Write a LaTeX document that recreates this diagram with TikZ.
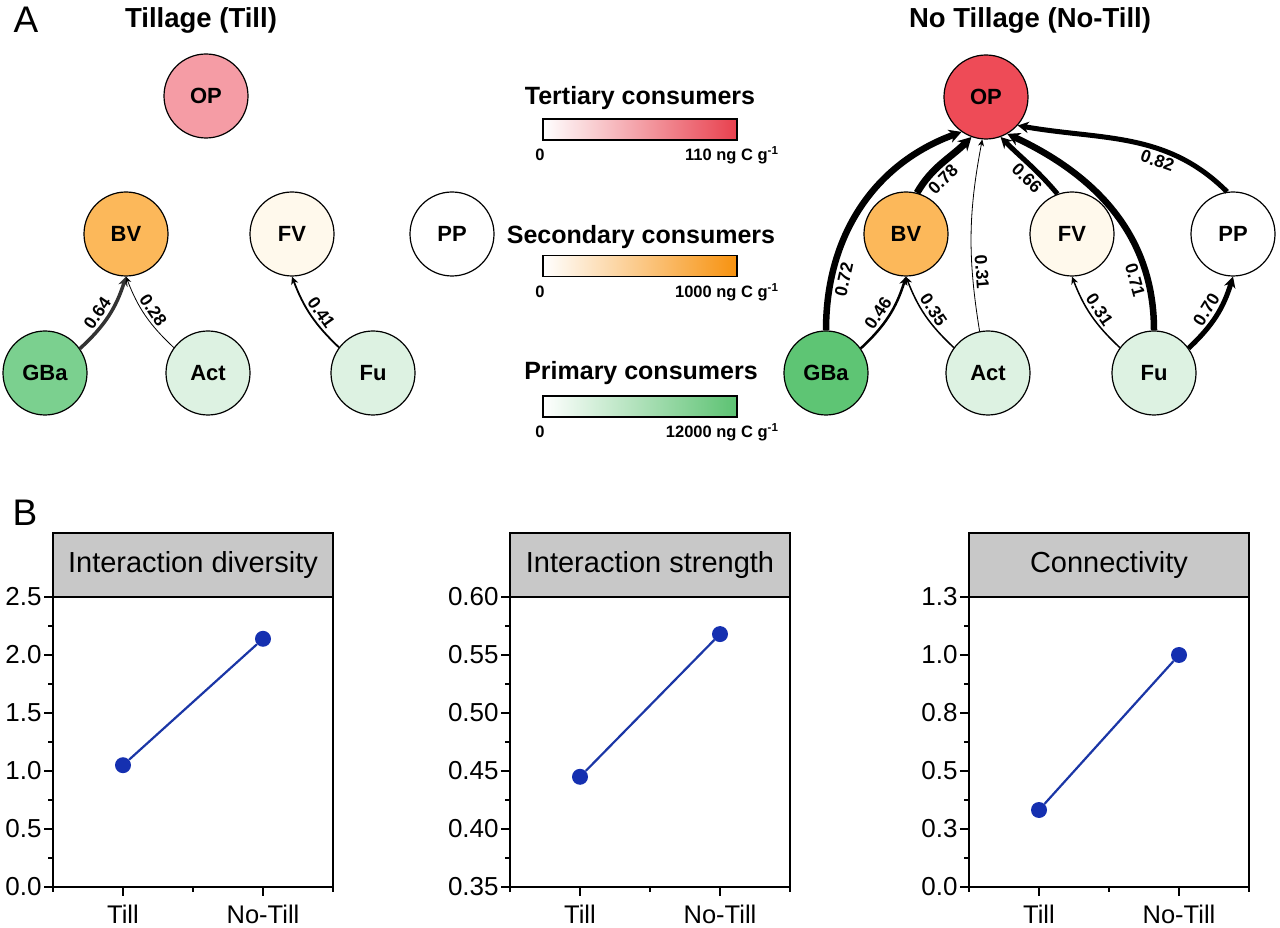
\documentclass[tikz,border=0pt]{standalone}
\usepackage{fontspec}
\setmainfont{Liberation Sans}
\usetikzlibrary{arrows.meta,positioning}

\definecolor{opPale}{HTML}{F59CA5}
\definecolor{opRed}{HTML}{EE4B57}
\definecolor{bvOrange}{HTML}{FCB85A}
\definecolor{fvCream}{HTML}{FFF9EC}
\definecolor{gbaTill}{HTML}{7BD08F}
\definecolor{gbaNoTill}{HTML}{5EC574}
\definecolor{primLight}{HTML}{DDF2E2}
\definecolor{barRed}{HTML}{E8404E}
\definecolor{barOrange}{HTML}{F7920F}
\definecolor{barGreen}{HTML}{5CC272}
\definecolor{hdrGray}{HTML}{C8C8C8}
\definecolor{dotBlue}{HTML}{1530B0}
\definecolor{lineBlue}{HTML}{1B36A6}
\definecolor{edgeGray}{HTML}{333333}

\begin{document}
\begin{tikzpicture}[
        x=1pt, y=1pt,
        sp/.style={circle, draw=black, line width=1.2pt, minimum size=84pt,
            inner sep=0pt, font=\fontsize{22}{24}\selectfont\bfseries},
        link/.style={line width=#1, -{Stealth[length=6pt 1, width=5pt 1.3]}},
        wt/.style={font=\fontsize{17.5}{19}\selectfont\bfseries, sloped, inner sep=3pt},
        ttl/.style={font=\fontsize{27.5}{30}\selectfont\bfseries},
        panel/.style={font=\fontsize{37}{40}\selectfont},
        legtitle/.style={font=\fontsize{25}{28}\selectfont\bfseries},
        leglab/.style={font=\fontsize{16.5}{18}\selectfont\bfseries},
        colbar/.style={draw=black, line width=1.1pt, minimum width=194pt,
            minimum height=21pt, inner sep=0pt, left color=white},
        hdr/.style={draw=black, line width=1.5pt, fill=hdrGray, minimum width=280pt,
            minimum height=64pt, font=\fontsize{29}{32}\selectfont},
        frame/.style={line width=1.5pt},
        axisln/.style={line width=1.8pt},
        ylab/.style={anchor=east, font=\fontsize{26}{28}\selectfont, inner sep=1.5pt},
        xlab/.style={anchor=base, font=\fontsize{25.5}{28}\selectfont},
        pt/.style={circle, fill=dotBlue, minimum size=16pt, inner sep=0pt},
        series/.style={draw=lineBlue, line width=2.2pt},
    ]
    \useasboundingbox (0,0) rectangle (1280,927);

    % panel letters and titles
    \node[panel] (letA) at (26,907) {A};
    \node[panel] (letB) at (25,414) {B};
    \node[ttl] (titleTill) at (201,907) {Tillage (Till)};
    \node[ttl] (titleNoTill) at (1030,907) {No Tillage (No-Till)};

    % Till food web
    \node[sp, fill=opPale] (OPa) at (206,831) {OP};
    \node[sp, fill=bvOrange] (BVa) at (126,693) {BV};
    \node[sp, fill=fvCream] (FVa) at (292,693) {FV};
    \node[sp, fill=white] (PPa) at (452,693) {PP};
    \node[sp, fill=gbaTill] (GBaa) at (45,554) {GBa};
    \node[sp, fill=primLight] (Acta) at (208,554) {Act};
    \node[sp, fill=primLight] (Fua) at (373,554) {Fu};

    \draw[link=3.5pt, draw=edgeGray] (GBaa) to[bend right=15]
        node[wt, above, pos=0.45] {0.64} (BVa.south);
    \draw[link=0.8pt] (Acta) to[bend left=13]
        node[wt, above, pos=0.5] {0.28} (BVa.south);
    \draw[link=1.8pt] (Fua) to[bend left=13]
        node[wt, above, pos=0.45] {0.41} (FVa.south);

    % legend
    \node[legtitle] (tertT) at (640,829) {Tertiary consumers};
    \node[colbar, right color=barRed] (tertB) at (640,797.5) {};
    \node[leglab] (tert0) at (540,772) {0};
    \node[leglab, anchor=east] (tertMax) at (782,772) {110 ng C g\textsuperscript{-1}};

    \node[legtitle] (secT) at (641,690) {Secondary consumers};
    \node[colbar, right color=barOrange] (secB) at (640,661) {};
    \node[leglab] (sec0) at (540,635) {0};
    \node[leglab, anchor=east] (secMax) at (782,635) {1000 ng C g\textsuperscript{-1}};

    \node[legtitle] (primT) at (641,554) {Primary consumers};
    \node[colbar, right color=barGreen] (primB) at (640,520.5) {};
    \node[leglab] (prim0) at (540,495) {0};
    \node[leglab, anchor=east] (primMax) at (782,495) {12000 ng C g\textsuperscript{-1}};

    % No-Till food web
    \node[sp, fill=opRed] (OPb) at (986,830) {OP};
    \node[sp, fill=bvOrange] (BVb) at (906,693) {BV};
    \node[sp, fill=fvCream] (FVb) at (1072,693) {FV};
    \node[sp, fill=white] (PPb) at (1233,693) {PP};
    \node[sp, fill=gbaNoTill] (GBab) at (826,554) {GBa};
    \node[sp, fill=primLight] (Actb) at (988,554) {Act};
    \node[sp, fill=primLight] (Fub) at (1154,554) {Fu};

    \draw[link=6.5pt] (GBab.90) to[out=90, in=200]
        node[wt, below, pos=0.2] {0.72} (OPb.235);
    \draw[link=7pt] (BVb.75) to[out=60, in=225]
        node[wt, below, pos=0.35] {0.78} (OPb.250);
    \draw[link=0.8pt] (Actb) to[bend left=10]
        node[wt, above, pos=0.29] {0.31} (OPb.265);
    \draw[link=2.5pt] (GBab) to[bend right=15]
        node[wt, above, pos=0.45] {0.46} (BVb.south);
    \draw[link=1.5pt] (Actb) to[bend left=13]
        node[wt, above, pos=0.5] {0.35} (BVb.south);
    \draw[link=5pt] (FVb.110) to[out=130, in=-45]
        node[wt, below, pos=0.4] {0.66} (OPb.290);
    \draw[link=6.5pt] (Fub.90) to[out=90, in=-25]
        node[wt, below, pos=0.2] {0.71} (OPb.300);
    \draw[link=1.5pt] (Fub) to[bend left=13]
        node[wt, above, pos=0.5] {0.31} (FVb.south);
    \draw[link=5pt] (Fub) to[bend right=15]
        node[wt, above, pos=0.5] {0.70} (PPb.south);
    \draw[link=5pt] (PPb.98) to[out=135, in=-10]
        node[wt, below, pos=0.35] {0.82} (OPb.318);

    % B: interaction diversity
    \begin{scope}[shift={(53,40)}]
        \node[hdr] (hdrDiv) at (140,322) {Interaction diversity};
        \draw[frame] (0,0) rectangle (280,290);
        \draw[axisln] (0,290) -- (0,0) -- (280,0);
        \foreach \lab [count=\i from 0] in {0.0,0.5,1.0,1.5,2.0,2.5}
            \draw[axisln] (0,58*\i) -- ++(-9,0) node[ylab] {\lab};
        \foreach \i in {0,...,4}
            \draw[axisln] (0,29+58*\i) -- ++(-5,0);
        \foreach \x in {0,140,280}
            \draw[axisln] (\x,0) -- ++(0,-5);
        \draw[axisln] (70,0) -- ++(0,-9);
        \draw[axisln] (210,0) -- ++(0,-9);
        \node[xlab] (tlDiv) at (70,-36) {Till};
        \node[xlab] (ntlDiv) at (210,-36) {No-Till};
        \node[pt] (tillDiv) at (70,121.8) {};
        \node[pt] (noTillDiv) at (210,248.2) {};
        \draw[series] (tillDiv) -- (noTillDiv);
    \end{scope}

    % B: interaction strength
    \begin{scope}[shift={(510,40)}]
        \node[hdr] (hdrStr) at (140,322) {Interaction strength};
        \draw[frame] (0,0) rectangle (280,290);
        \draw[axisln] (0,290) -- (0,0) -- (280,0);
        \foreach \lab [count=\i from 0] in {0.35,0.40,0.45,0.50,0.55,0.60}
            \draw[axisln] (0,58*\i) -- ++(-9,0) node[ylab] {\lab};
        \foreach \i in {0,...,4}
            \draw[axisln] (0,29+58*\i) -- ++(-5,0);
        \foreach \x in {0,140,280}
            \draw[axisln] (\x,0) -- ++(0,-5);
        \draw[axisln] (70,0) -- ++(0,-9);
        \draw[axisln] (210,0) -- ++(0,-9);
        \node[xlab] (tlStr) at (70,-36) {Till};
        \node[xlab] (ntlStr) at (210,-36) {No-Till};
        \node[pt] (tillStr) at (70,110.2) {};
        \node[pt] (noTillStr) at (210,252.9) {};
        \draw[series] (tillStr) -- (noTillStr);
    \end{scope}

    % B: connectivity
    \begin{scope}[shift={(969,40)}]
        \node[hdr] (hdrCon) at (140,322) {Connectivity};
        \draw[frame] (0,0) rectangle (280,290);
        \draw[axisln] (0,290) -- (0,0) -- (280,0);
        \foreach \lab [count=\i from 0] in {0.0,0.3,0.5,0.8,1.0,1.3}
            \draw[axisln] (0,58*\i) -- ++(-9,0) node[ylab] {\lab};
        \foreach \i in {0,...,4}
            \draw[axisln] (0,29+58*\i) -- ++(-5,0);
        \foreach \x in {0,140,280}
            \draw[axisln] (\x,0) -- ++(0,-5);
        \draw[axisln] (70,0) -- ++(0,-9);
        \draw[axisln] (210,0) -- ++(0,-9);
        \node[xlab] (tlCon) at (70,-36) {Till};
        \node[xlab] (ntlCon) at (210,-36) {No-Till};
        \node[pt] (tillCon) at (70,77) {};
        \node[pt] (noTillCon) at (210,232) {};
        \draw[series] (tillCon) -- (noTillCon);
    \end{scope}
\end{tikzpicture}
\end{document}
